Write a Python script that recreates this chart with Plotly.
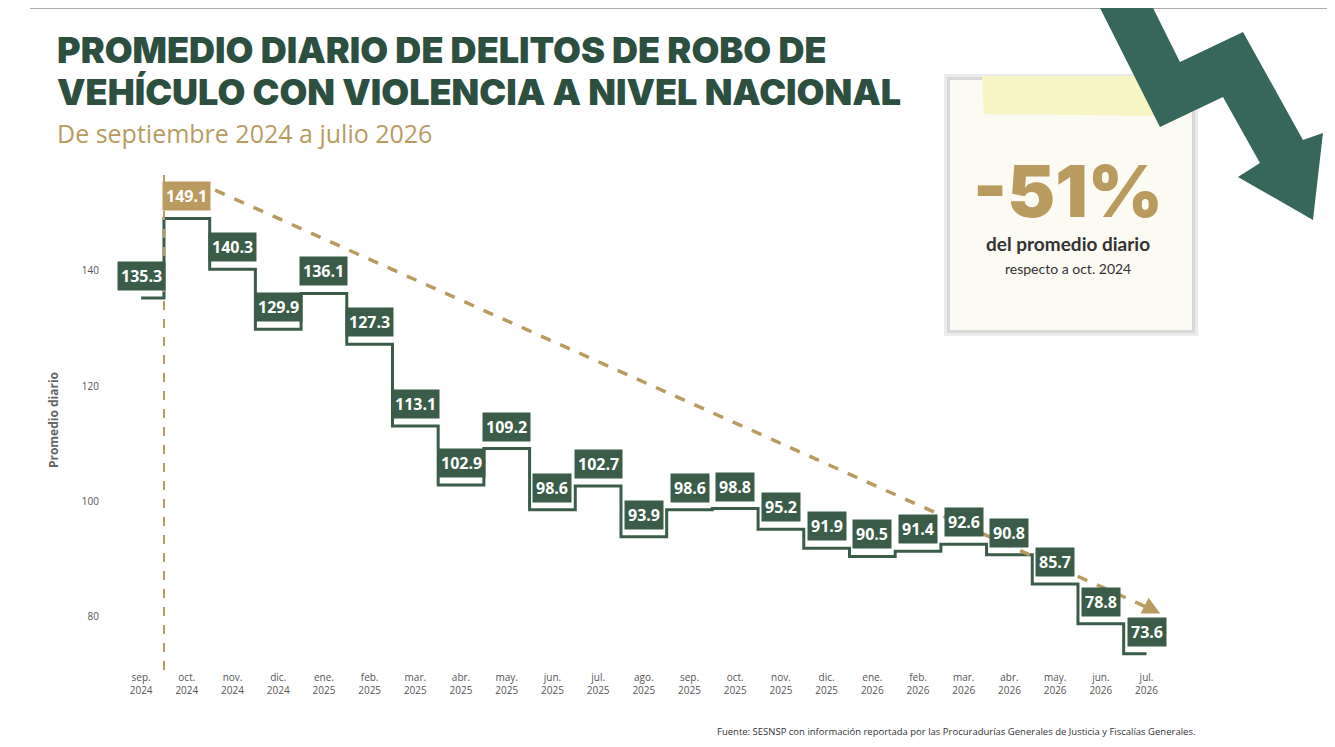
import plotly.graph_objects as go

months = ["sep.","oct.","nov.","dic.","ene.","feb.","mar.","abr.","may.","jun.","jul.","ago.",
          "sep.","oct.","nov.","dic.","ene.","feb.","mar.","abr.","may.","jun.","jul."]
years = ["2024"]*4 + ["2025"]*12 + ["2026"]*7
values = [135.3,149.1,140.3,129.9,136.1,127.3,113.1,102.9,109.2,98.6,102.7,93.9,
          98.6,98.8,95.2,91.9,90.5,91.4,92.6,90.8,85.7,78.8,73.6]
x = list(range(len(values)))
ticklabels = [f"{m}<br>{y}" for m, y in zip(months, years)]

GREEN = "#3a5c48"
GOLD = "#b99b5f"
OFF = 8
L, T, W, H = 100 - OFF, 170 - OFF, 1100, 500

def px(xp, yp):
    return (xp - OFF - L) / W, (T + H - (yp - OFF)) / H

def path(pts):
    s = ""
    for i, (a, b) in enumerate(pts):
        u, v = px(a, b)
        s += ("M" if i == 0 else "L") + f"{u:.4f},{v:.4f} "
    return s + "Z"

fig = go.Figure()
fig.add_trace(go.Scatter(x=x, y=values, mode="lines", line=dict(shape="hvh", color=GREEN, width=3),
                         hoverinfo="skip", showlegend=False))
fig.add_trace(go.Scatter(x=[1.62, 22.2], y=[154.0, 81.0], mode="lines",
                         line=dict(color=GOLD, width=3.5, dash="dash"), showlegend=False, hoverinfo="skip"))
fig.add_trace(go.Scatter(x=[0.5, 0.5], y=[70.8, 157.5], mode="lines",
                         line=dict(color=GOLD, width=2, dash="dash"), showlegend=False, hoverinfo="skip"))

annotations = []
for i, v in enumerate(values):
    annotations.append(dict(x=i, y=v, text=f"<b>{v}</b>", showarrow=False, yshift=22,
                            bgcolor=GOLD if i == 1 else GREEN, borderpad=3,
                            font=dict(color="white", size=16, family="Open Sans")))
annotations.append(dict(x=22.3, y=80.6, ax=22.0, ay=81.8, xref="x", yref="y", axref="x", ayref="y",
                        text="", showarrow=True, arrowhead=2, arrowsize=1, arrowwidth=3.5, arrowcolor=GOLD))

def ptext(xp, yp, text, size, color, weight="normal", xanchor="left", family="Open Sans"):
    u, v = px(xp, yp)
    annotations.append(dict(xref="paper", yref="paper", x=u, y=v, text=text, showarrow=False,
                            xanchor=xanchor, yanchor="middle",
                            font=dict(size=size, color=color, family=family, weight=weight)))

ptext(55, 50, "PROMEDIO DIARIO DE DELITOS DE ROBO DE", 36, "#2d4f40", 900, family="Inter")
ptext(55, 92, "VEHÍCULO CON VIOLENCIA A NIVEL NACIONAL", 36, "#2d4f40", 900, family="Inter")
ptext(55, 133, "De septiembre 2024 a julio 2026", 25, GOLD)
ptext(1068, 190, "-51%", 72, GOLD, 900, xanchor="center", family="Inter")
ptext(1068, 243, "<b>del promedio diario</b>", 19, "#333333", xanchor="center", family="Lato")
ptext(1068, 268, "respecto a oct. 2024", 14, "#333333", xanchor="center", family="Lato")
ptext(1197, 731, "Fuente: SESNSP con información reportada por las Procuradurías Generales de Justicia y Fiscalías Generales.",
      9.5, "#333333", xanchor="right")

shapes = []
u0, v0 = px(30, 8); u1, _ = px(1330, 8)
shapes.append(dict(type="line", xref="paper", yref="paper", x0=u0, x1=u1, y0=v0, y1=v0,
                   line=dict(color="#555555", width=1)))
for off, col in [(6, "rgba(0,0,0,0.08)"), (3, "rgba(0,0,0,0.08)")]:
    shapes.append(dict(type="path", xref="paper", yref="paper", line=dict(width=0), fillcolor=col,
                       path=path([(950-off, 80-off), (1192+off, 80-off), (1192+off, 330+off), (950-off, 330+off)])))
shapes.append(dict(type="path", xref="paper", yref="paper", line=dict(width=0), fillcolor="#fbfaf3",
                   path=path([(950, 80), (1192, 80), (1192, 330), (950, 330)])))
shapes.append(dict(type="path", xref="paper", yref="paper", line=dict(width=0), fillcolor="#f7f5c4",
                   path=path([(982, 76), (1150, 76), (1155, 116), (984, 114)])))
shapes.append(dict(type="path", xref="paper", yref="paper", line=dict(width=0), fillcolor="#37665a",
                   path=path([(1100, 8), (1153, 8), (1180, 62), (1243, 32), (1303, 140), (1323, 133),
                              (1313, 220), (1238, 177), (1260, 163), (1223, 97), (1160, 127)])))

fig.update_layout(
    width=1335, height=747, margin=dict(l=L, r=1335 - L - W, t=T, b=747 - T - H),
    paper_bgcolor="white", plot_bgcolor="white",
    xaxis=dict(range=[-0.9, 23.17], tickmode="array", tickvals=x, ticktext=ticklabels,
               showgrid=False, zeroline=False, showline=False, tickfont=dict(size=10, color="#555555", family="Open Sans")),
    yaxis=dict(range=[70.8, 157.5], tickvals=[80, 100, 120, 140], showgrid=False, zeroline=False,
               tickfont=dict(size=10, color="#555555", family="Open Sans"),
               title=dict(text="<b>Promedio diario</b>", font=dict(size=12, color="#666666", family="Open Sans"), standoff=20)),
    annotations=annotations, shapes=shapes,
)
fig.write_html("out.html")
